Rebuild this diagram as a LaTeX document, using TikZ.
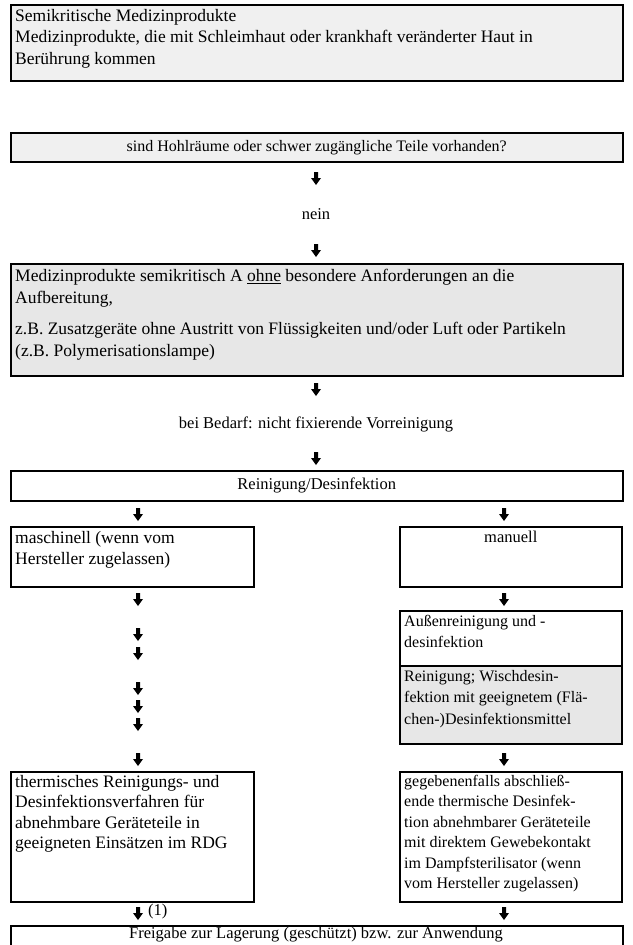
\documentclass[tikz,border=0pt]{standalone}
\usepackage{fontspec}
\setmainfont{Liberation Serif}
\newcommand\fs{\fontsize{17.5}{21.5}\selectfont}
\newcommand\fsb{\fontsize{17.5}{20.5}\selectfont}
\newcommand\fsm{\fontsize{16.5}{21.5}\selectfont}
\newcommand\fsr{\fontsize{16}{21.5}\selectfont}
\newcommand\fsrb{\fontsize{16}{20.5}\selectfont}
\begin{document}
\begin{tikzpicture}[x=1pt,y=-1pt,
  bx/.style={draw=black, line width=1.5pt, inner sep=0pt, anchor=north west},
  gbx/.style={bx, fill=gray!12},
  gbxx/.style={bx, fill=gray!19},
  tx/.style={anchor=north west, inner sep=0pt, align=left, font=\fs},
  txr/.style={anchor=north west, inner sep=0pt, align=left, font=\fsr},
  ctx/.style={inner sep=0pt, align=center, font=\fsm},
  arr/.pic={\fill (-2,-6) -- (2,-6) -- (2,0) -- (5,0) -- (0,7) -- (-5,0) -- (-2,0) -- cycle;}]
\useasboundingbox (0,0) rectangle (632,945);
% box 1
\node[gbx, minimum width=612pt, minimum height=76pt] (b1) at (10,4) {};
\node[tx] (t1) at ([xshift=5pt,yshift=-5pt]b1.north west) {Semikritische Medizinprodukte\\Medizinprodukte, die mit Schleimhaut oder krankhaft veränderter Haut in\\Berührung kommen};
% box 2
\node[gbx, minimum width=612pt, minimum height=29pt, font=\fsr] (b2) at (10,132) {sind Hohlräume oder schwer zugängliche Teile vorhanden?};
\pic at (316,178) {arr};
\node[ctx] (nein) at (316,214) {nein};
\pic at (316,250) {arr};
% box 3
\node[gbxx, minimum width=612pt, minimum height=112pt] (b3) at (10,263) {};
\node[tx] (t3) at ([xshift=5pt,yshift=-6pt]b3.north west) {Medizinprodukte semikritisch A \underline{ohne} besondere Anforderungen an die\\Aufbereitung,\\[10pt]z.B. Zusatzgeräte ohne Austritt von Flüssigkeiten und/oder Luft oder Partikeln\\(z.B. Polymerisationslampe)};
\pic at (316,389) {arr};
\node[ctx] (bb) at (316,424) {bei Bedarf: nicht fixierende Vorreinigung};
\pic at (316,458) {arr};
% box 4
\node[bx, minimum width=612pt, minimum height=30pt, font=\fsm] (b4) at (10,470) {Reinigung/Desinfektion};
\pic at (138,514) {arr};
\pic at (504,514) {arr};
% row boxes
\node[bx, minimum width=243pt, minimum height=60pt] (bl) at (10,526) {};
\node[tx] at ([xshift=5pt,yshift=-5pt]bl.north west) {maschinell (wenn vom\\Hersteller zugelassen)};
\node[bx, minimum width=222pt, minimum height=60pt] (br) at (399,526) {};
\node[ctx, anchor=north] at ([yshift=-5pt]br.north) {manuell};
% left arrows
\foreach \yy in {599,634,653,688,706,724,759} {\pic at (138,\yy) {arr};}
\pic at (504,599) {arr};
% right column
\node[bx, minimum width=222pt, minimum height=55pt] (ba) at (399,610) {};
\node[txr] at ([xshift=5pt,yshift=-5pt]ba.north west) {Außenreinigung und -\\desinfektion};
\node[gbxx, minimum width=222pt, minimum height=78pt] (bw) at (399,665) {};
\node[txr] at ([xshift=5pt,yshift=-5pt]bw.north west) {Reinigung; Wischdesin-\\fektion mit geeignetem (Flä-\\chen-)Desinfektionsmittel};
\pic at (504,759) {arr};
% bottom boxes
\node[bx, minimum width=243pt, minimum height=130pt] (bt) at (10,771) {};
\node[tx, font=\fsb] at ([xshift=5pt,yshift=-4pt]bt.north west) {thermisches Reinigungs- und\\Desinfektionsverfahren für\\abnehmbare Geräteteile in\\geeigneten Einsätzen im RDG};
\node[bx, minimum width=222pt, minimum height=130pt] (bg) at (399,771) {};
\node[txr, font=\fsrb] at ([xshift=5pt,yshift=-4pt]bg.north west) {gegebenenfalls abschließ-\\ende thermische Desinfek-\\tion abnehmbarer Geräteteile\\mit direktem Gewebekontakt\\im Dampfsterilisator (wenn\\vom Hersteller zugelassen)};
\pic at (138,913) {arr};
\node[ctx, anchor=west] (one) at (148,912) {(1)};
\pic at (504,913) {arr};
\node[bx, minimum width=612pt, minimum height=26pt] (bf) at (10,925) {};
\node[ctx] (tf) at (316,935) {Freigabe zur Lagerung (geschützt) bzw. zur Anwendung};
\end{tikzpicture}
\end{document}
